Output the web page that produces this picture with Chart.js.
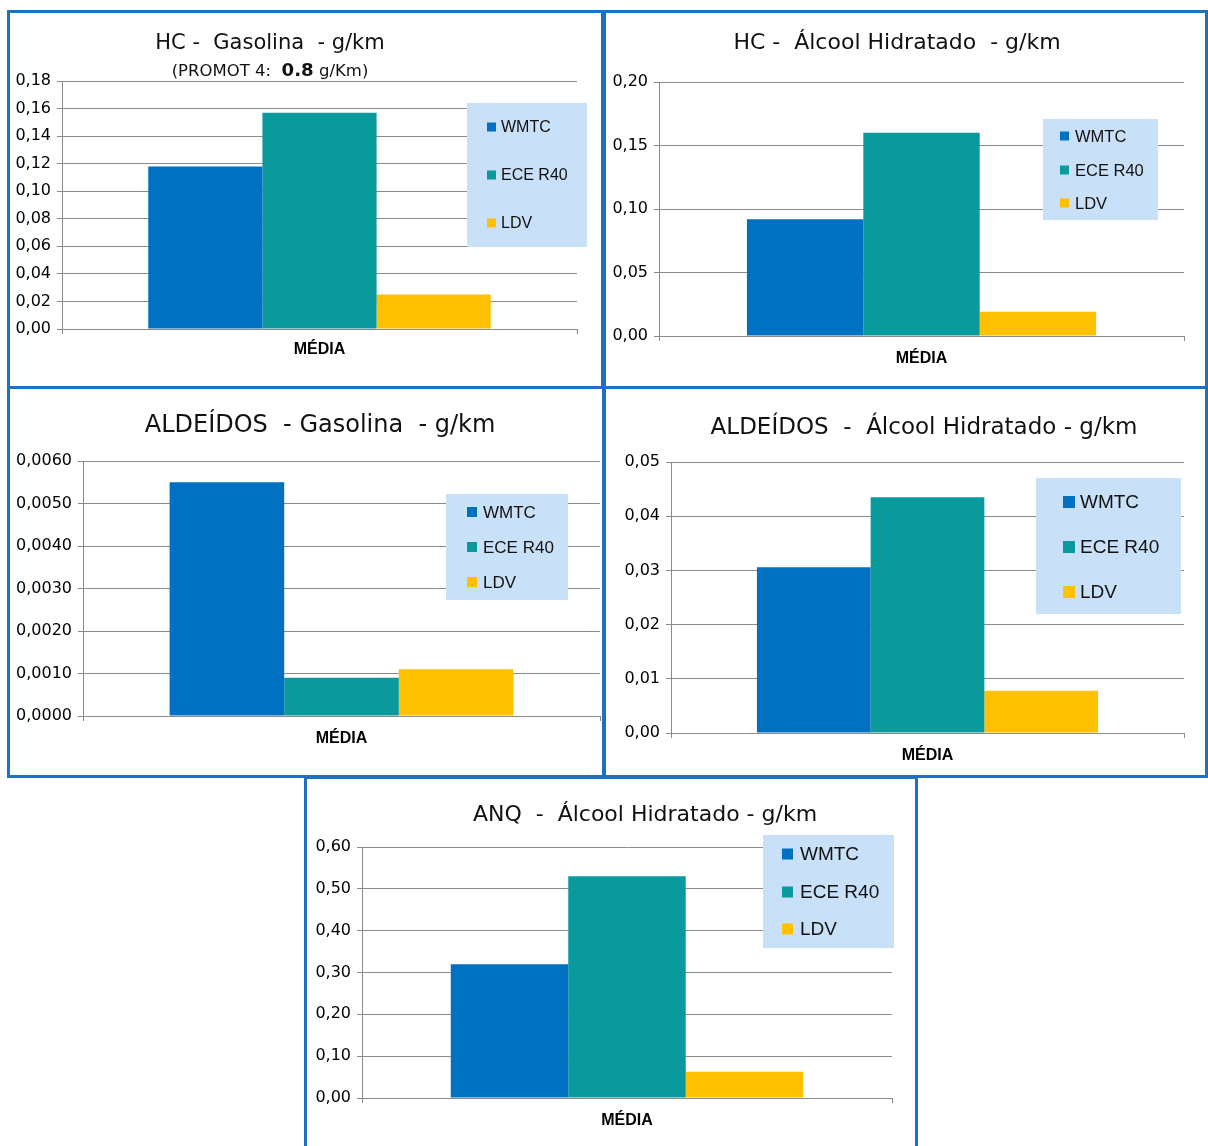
<!DOCTYPE html>
<html>
<head>
<meta charset="utf-8">
<script src="https://cdn.jsdelivr.net/npm/chart.js@4.4.1/dist/chart.umd.min.js"></script>
<style>
    html, body { margin: 0; padding: 0; background: #fff; }
    body { width: 1208px; height: 1146px; position: relative; overflow: hidden; }
    .panel { position: absolute; box-sizing: border-box; border: 3px solid #1f70c1; background: #fff; }
    .panel canvas { position: absolute; left: 0; top: 0; }
    .ttl {
        position: absolute; width: 600px; text-align: center; white-space: pre;
        font-family: "DejaVu Sans", sans-serif; line-height: 1; color: #111;
    }
    .ttl b { font-size: 1.1em; }
</style>
</head>
<body>

<div class="panel" id="p1" style="left:7px;top:10px;width:597px;height:379px"><canvas id="c1"></canvas></div>
<div class="panel" id="p2" style="left:603px;top:10px;width:605px;height:379px"><canvas id="c2"></canvas></div>
<div class="panel" id="p3" style="left:7px;top:386px;width:598px;height:392px"><canvas id="c3"></canvas></div>
<div class="panel" id="p4" style="left:603px;top:386px;width:605px;height:392px"><canvas id="c4"></canvas></div>
<div class="panel" id="p5" style="left:304px;top:776px;width:614px;height:375px"><canvas id="c5"></canvas></div>

<div class="ttl" style="left:-30px;top:32px;font-size:21px">HC -  Gasolina  - g/km</div>
<div class="ttl" style="left:-30px;top:61px;font-size:16.5px">(PROMOT 4:  <b>0.8</b> g/Km)</div>
<div class="ttl" style="left:597px;top:31px;font-size:22px">HC -  Álcool Hidratado  - g/km</div>
<div class="ttl" style="left:20px;top:412px;font-size:24px">ALDEÍDOS  - Gasolina  - g/km</div>
<div class="ttl" style="left:624px;top:415px;font-size:23px">ALDEÍDOS  -  Álcool Hidratado - g/km</div>
<div class="ttl" style="left:345px;top:803px;font-size:22px">ANQ  -  Álcool Hidratado - g/km</div>

<script>
// Emission averages per test cycle, g/km

const categories = ['MÉDIA'];
const seriesNames = ['WMTC', 'ECE R40', 'LDV'];
const seriesColors = ['#0070c0', '#0a9a9d', '#ffc000'];

const hcGasolina = [0.118, 0.157, 0.025];
const hcAlcool = [0.092, 0.160, 0.019];
const aldeidosGasolina = [0.0055, 0.0009, 0.0011];
const aldeidosAlcool = [0.0306, 0.0435, 0.0078];
const anqAlcool = [0.32, 0.53, 0.063];

const BORDER = 3;
const GRID = '#8a8a8a';

// legend box drawn over the plot, like the Excel original
const boxLegend = {
    id: 'boxLegend',
    afterDatasetsDraw(chart, args, opts) {
        const ctx = chart.ctx;
        ctx.save();
        ctx.fillStyle = '#c9e1f8';
        ctx.fillRect(opts.x, opts.y, opts.w, opts.h);
        ctx.font = opts.fontSize + 'px "Liberation Sans", Arial, sans-serif';
        ctx.textBaseline = 'middle';
        chart.data.datasets.forEach((ds, i) => {
            const cy = opts.rows[i];
            ctx.fillStyle = ds.backgroundColor;
            ctx.fillRect(opts.swatchX, cy - opts.swatch / 2, opts.swatch, opts.swatch);
            ctx.fillStyle = '#111';
            ctx.fillText(ds.label, opts.textX, cy + 1);
        });
        ctx.restore();
    }
};

function makeChart(spec) {
    const panel = document.getElementById(spec.panel);
    const ox = panel.offsetLeft + BORDER;
    const oy = panel.offsetTop + BORDER;
    const cw = panel.offsetWidth - 2 * BORDER;
    const chh = panel.offsetHeight - 2 * BORDER;

    const canvas = document.getElementById(spec.canvas);
    canvas.width = cw;
    canvas.height = chh;

    const area = spec.area; // page coords of the plot area
    const yWidth = area.left - ox;
    const xHeight = oy + chh - area.bottom;
    const lg = spec.legend;

    new Chart(canvas.getContext('2d'), {
        type: 'bar',
        data: {
            labels: categories,
            datasets: seriesNames.map((name, i) => ({
                label: name,
                data: [spec.values[i]],
                backgroundColor: seriesColors[i],
                borderWidth: 0,
                categoryPercentage: 0.665,
                barPercentage: 1.0
            }))
        },
        options: {
            responsive: false,
            animation: false,
            layout: {
                padding: { left: 0, bottom: 0, top: area.top - oy, right: ox + cw - area.right }
            },
            plugins: {
                legend: { display: false },
                tooltip: { enabled: false },
                boxLegend: {
                    x: lg.x - ox, y: lg.y - oy, w: lg.w, h: lg.h,
                    rows: lg.rows.map(r => r - oy),
                    swatchX: lg.swatchX - ox, swatch: lg.swatch,
                    textX: lg.textX - ox, fontSize: lg.fontSize
                }
            },
            scales: {
                x: {
                    grid: { display: true, offset: true, drawOnChartArea: false, drawTicks: true, tickLength: 5, color: GRID },
                    border: { display: true, color: GRID },
                    ticks: {
                        color: '#000',
                        padding: spec.xPad,
                        font: { family: '"Liberation Sans", Arial, sans-serif', size: 16, weight: 'bold' }
                    },
                    afterFit: s => { s.height = xHeight; }
                },
                y: {
                    min: 0,
                    max: spec.yMax,
                    grid: { color: GRID, tickLength: 5 },
                    border: { display: true, color: GRID },
                    ticks: {
                        stepSize: spec.yStep,
                        color: '#000',
                        padding: 6,
                        font: { family: '"DejaVu Sans", sans-serif', size: 16 },
                        callback: v => v.toFixed(spec.decimals).replace('.', ',')
                    },
                    afterFit: s => { s.width = yWidth; }
                }
            }
        },
        plugins: [boxLegend]
    });
}

makeChart({
    panel: 'p1', canvas: 'c1', values: hcGasolina,
    yMax: 0.18, yStep: 0.02, decimals: 2, xPad: 6,
    area: { left: 62, right: 577, top: 81, bottom: 329 },
    legend: { x: 467, y: 103, w: 120, h: 144, rows: [127, 175, 223], swatchX: 487, swatch: 9, textX: 501, fontSize: 16 }
});

makeChart({
    panel: 'p2', canvas: 'c2', values: hcAlcool,
    yMax: 0.20, yStep: 0.05, decimals: 2, xPad: 8,
    area: { left: 659, right: 1184, top: 82, bottom: 336 },
    legend: { x: 1043, y: 119, w: 115, h: 101, rows: [136, 170, 203], swatchX: 1060, swatch: 9, textX: 1075, fontSize: 16.5 }
});

makeChart({
    panel: 'p3', canvas: 'c3', values: aldeidosGasolina,
    yMax: 0.006, yStep: 0.001, decimals: 4, xPad: 8,
    area: { left: 83, right: 600, top: 461, bottom: 716 },
    legend: { x: 446, y: 494, w: 122, h: 106, rows: [512, 547, 582], swatchX: 467, swatch: 10, textX: 483, fontSize: 17 }
});

makeChart({
    panel: 'p4', canvas: 'c4', values: aldeidosAlcool,
    yMax: 0.05, yStep: 0.01, decimals: 2, xPad: 8,
    area: { left: 671, right: 1184, top: 462, bottom: 733 },
    legend: { x: 1036, y: 478, w: 145, h: 136, rows: [502, 547, 592], swatchX: 1063, swatch: 12, textX: 1080, fontSize: 19 }
});

makeChart({
    panel: 'p5', canvas: 'c5', values: anqAlcool,
    yMax: 0.6, yStep: 0.1, decimals: 2, xPad: 8,
    area: { left: 362, right: 892, top: 847, bottom: 1098 },
    legend: { x: 763, y: 835, w: 131, h: 113, rows: [854, 892, 929], swatchX: 782, swatch: 11, textX: 800, fontSize: 19 }
});
</script>
</body>
</html>
